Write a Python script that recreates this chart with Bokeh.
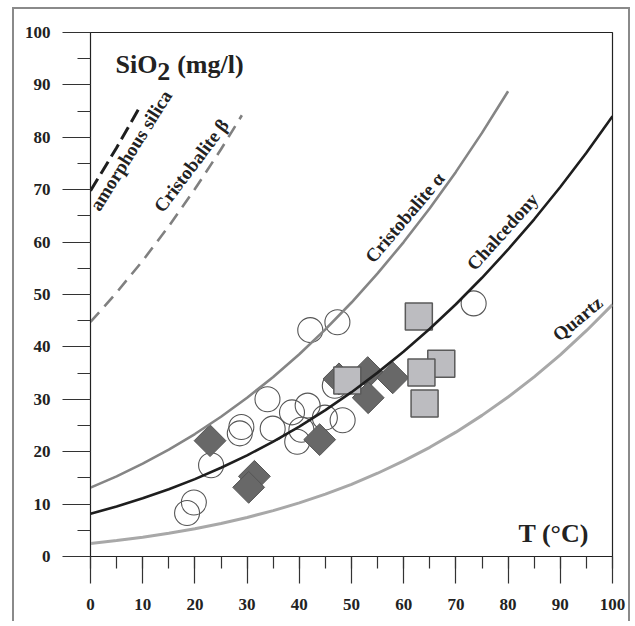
from bokeh.plotting import figure
from bokeh.models import SingleIntervalTicker, ColumnDataSource
from bokeh.core.properties import value
from bokeh.embed import file_html
from bokeh.resources import INLINE

# ---- solubility curves ----
t_quartz = [0, 5, 10, 15, 20, 25, 30, 35, 40, 45, 50, 55, 60, 65, 70, 75, 80, 85, 90, 95, 100]
sio2_quartz = [2.5, 3.05, 3.69, 4.44, 5.31, 6.3, 7.45, 8.75, 10.23, 11.9, 13.78, 15.89, 18.24,
               20.84, 23.73, 26.93, 30.43, 34.29, 38.49, 43.09, 48.08]
t_chalcedony = [0, 5, 10, 15, 20, 25, 30, 35, 40, 45, 50, 55, 60, 65, 70, 75, 80, 85, 90, 95, 100]
sio2_chalcedony = [8.16, 9.54, 11.1, 12.84, 14.77, 16.93, 19.31, 21.93, 24.8, 27.94, 31.36, 35.09,
                   39.11, 43.46, 48.14, 53.19, 58.59, 64.35, 70.51, 77.06, 84.04]
t_crist_a = [0, 5, 10, 15, 20, 25, 30, 35, 40, 45, 50, 55, 60, 65, 70, 75, 80]
sio2_crist_a = [13.15, 15.3, 17.72, 20.39, 23.37, 26.67, 30.29, 34.26, 38.6, 43.35, 48.47, 54.02,
                60.01, 66.47, 73.4, 80.84, 88.8]
t_crist_b = [0, 5, 10, 15, 20, 25, 29]
sio2_crist_b = [44.75, 50.38, 56.45, 63.04, 70.13, 77.71, 84.2]
t_amorph = [0, 5, 9.5]
sio2_amorph = [69.8, 78.0, 85.9]

# ---- samples ----
circ_t = [18.5, 19.8, 23.1, 28.6, 28.9, 33.9, 34.9, 38.6, 41.6, 39.6, 40.4, 44.9, 48.3, 42.1, 47.3, 73.4, 46.8]
circ_c = [8.3, 10.3, 17.4, 23.5, 24.7, 30.0, 24.4, 27.5, 28.8, 21.9, 24.2, 26.5, 26.0, 43.2, 44.7, 48.3, 32.6]
diam_t = [22.9, 31.4, 30.3, 43.9, 47.6, 53.1, 53.2, 57.9]
diam_c = [22.1, 15.3, 13.2, 22.3, 33.9, 35.1, 30.3, 34.1]
sq_t = [49.2, 62.9, 67.2, 63.4, 64.0]
sq_c = [33.6, 45.8, 36.8, 35.1, 29.2]

curve_labels = ["amorphous silica", "Cristobalite \u03b2", "Cristobalite \u03b1", "Chalcedony", "Quartz"]
label_t = [7.7, 19.3, 60.2, 78.9, 93.3]
label_c = [77.5, 74.6, 64.7, 62.0, 45.4]
label_angle = [58, 53, 49.7, 48, 39.7]

FONT = value("Liberation Serif")

p = figure(width=618, height=614, x_range=(0, 100), y_range=(0, 100),
           output_backend="svg", toolbar_location=None,
           min_border_left=76, min_border_right=20, min_border_top=23, min_border_bottom=67)
p.styles = {"border": "2px solid #8a8a8a", "border-bottom": "none",
            "margin-left": "12px", "margin-top": "7px"}
p.grid.visible = False
p.outline_line_color = "#222222"
p.outline_line_width = 1.2
p.background_fill_color = "white"
p.border_fill_color = "white"

for ax in (p.xaxis[0], p.yaxis[0]):
    ax.ticker = SingleIntervalTicker(interval=10, num_minor_ticks=2)
    ax.axis_line_color = "#222222"
    ax.major_tick_line_color = "#333333"
    ax.minor_tick_line_color = "#333333"
    ax.major_tick_line_width = 1.2
    ax.minor_tick_line_width = 1.2
    ax.major_tick_in = 0
    ax.minor_tick_in = 0
    ax.major_label_text_font = "Liberation Serif"
    ax.major_label_text_font_style = "bold"
    ax.major_label_text_font_size = "17px"
    ax.major_label_text_color = "#222222"
p.xaxis.major_tick_out = 27
p.xaxis.minor_tick_out = 12
p.xaxis.major_label_standoff = 15
p.yaxis.major_tick_out = 28
p.yaxis.minor_tick_out = 13
p.yaxis.major_label_standoff = 12

# markers
p.scatter(circ_t, circ_c, marker="circle", size=25, fill_alpha=0,
          line_color="#555555", line_width=1.1)
p.scatter(diam_t, diam_c, marker="square", angle=45, angle_units="deg", size=22.5,
          fill_color="#686868", line_color="#555555", line_width=1)
p.scatter(sq_t, sq_c, marker="square", size=27,
          fill_color="#bcbcc0", line_color="#5a5a5a", line_width=1.5)

# curves
p.line(t_quartz, sio2_quartz, line_color="#a8a8a8", line_width=3)
p.line(t_crist_a, sio2_crist_a, line_color="#858585", line_width=2.6)
p.line(t_chalcedony, sio2_chalcedony, line_color="#1e1e1e", line_width=2.6)
p.line(t_crist_b, sio2_crist_b, line_color="#808080", line_width=2.6, line_dash="13 8")
p.line(t_amorph, sio2_amorph, line_color="#1e1e1e", line_width=3, line_dash="14 6")

src = ColumnDataSource(dict(x=label_t, y=label_c, text=curve_labels, angle=label_angle))
p.text("x", "y", text="text", angle="angle", angle_units="deg", source=src,
       text_font=FONT, text_font_style="bold", text_font_size="19px",
       text_color="#222222", text_align="center", text_baseline="middle")

# axis titles inside the plot
p.text([4.8], [93.9], text=["SiO"], text_font=FONT, text_font_style="bold",
       text_font_size="26px", text_color="#222222", text_align="left", text_baseline="alphabetic")
p.text([12.8], [92.5], text=["2"], text_font=FONT, text_font_style="bold",
       text_font_size="26px", text_color="#222222", text_align="left", text_baseline="alphabetic")
p.text([16.6], [93.9], text=["(mg/l)"], text_font=FONT, text_font_style="bold",
       text_font_size="26px", text_color="#222222", text_align="left", text_baseline="alphabetic")
p.text([82.0], [4.4], text=["T (\u00b0C)"], text_font=FONT, text_font_style="bold",
       text_font_size="26px", text_color="#222222", text_align="left", text_baseline="alphabetic")

open("out.html", "w").write(file_html(p, INLINE))
